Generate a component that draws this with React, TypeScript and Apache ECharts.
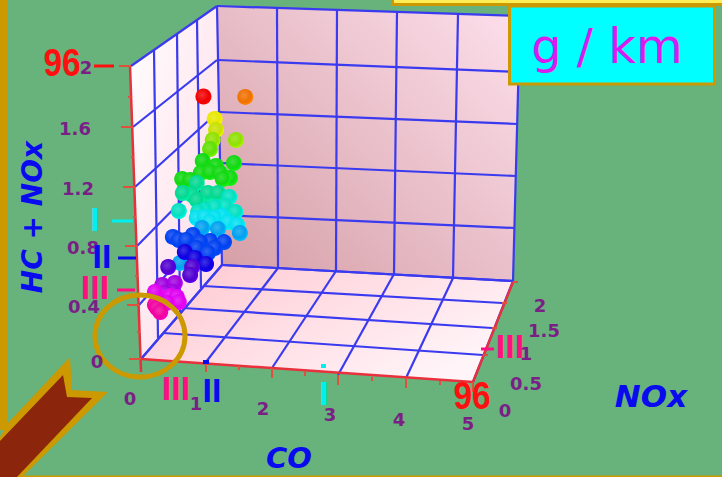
import React, { useEffect, useRef } from "react";
import * as echarts from "echarts";

// Readings: [apparent CO, apparent HC + NOx] in the projected plane, one list per colour band
const redPts = [[0.94, 1.798]];
const orangePts = [[1.57, 1.795]];
const yellowPts = [[1.11, 1.644]];
const yellowLimePts = [[1.13, 1.568]];
const limePts = [[1.43, 1.5], [1.08, 1.5]];
const lawnPts = [[1.04, 1.438]];
const greenPts = [[1.4, 1.342], [0.93, 1.356], [1.13, 1.322], [0.9, 1.274], [1.04, 1.281], [1.19, 1.274], [1.34, 1.24], [1.23, 1.233], [0.62, 1.233], [0.74, 1.226]];
const springPts = [[0.84, 1.205], [1.07, 1.075], [1.01, 1.137], [1.16, 1.137], [0.77, 1.123], [0.63, 1.137], [0.84, 1.089]];
const tealPts = [[1.33, 1.11], [1.27, 1.048], [1.11, 1.04], [0.96, 1.02], [1.42, 1.007], [0.57, 1.014], [0.86, 1.007]];
const cyanPts = [[1.22, 0.979], [0.84, 0.966], [0.96, 0.973], [1.11, 0.966], [1.04, 0.938], [1.31, 0.938], [1.45, 0.918]];
const azurePts = [[0.92, 0.897], [1.16, 0.89], [1.49, 0.863], [0.59, 0.658]];
const bluePts = [[0.78, 0.849], [0.48, 0.836], [0.57, 0.815], [0.68, 0.815], [1.04, 0.808], [1.25, 0.801], [0.89, 0.801], [0.84, 0.76], [1.11, 0.76], [1.01, 0.726]];
const navyPts = [[0.66, 0.733], [0.81, 0.692], [0.98, 0.651]];
const indigoPts = [[0.41, 0.63], [0.77, 0.63], [0.74, 0.575]];
const violetPts = [[0.51, 0.521], [0.32, 0.507], [0.47, 0.459], [0.36, 0.452]];
const magentaPts = [[0.21, 0.459], [0.44, 0.432], [0.54, 0.425], [0.57, 0.39], [0.39, 0.384]];
const hotPts = [[0.21, 0.37], [0.24, 0.349], [0.29, 0.322]];

const bands: [number[][], string][] = [
  [redPts, "#f00000"], [orangePts, "#f07000"], [yellowPts, "#e8e800"], [yellowLimePts, "#c8e000"],
  [limePts, "#90e000"], [lawnPts, "#60e000"], [greenPts, "#10d810"], [springPts, "#00d890"],
  [tealPts, "#00e0c0"], [cyanPts, "#00e0f0"], [azurePts, "#00a0f0"], [bluePts, "#0040f0"],
  [navyPts, "#1000e0"], [indigoPts, "#5000d0"], [violetPts, "#a000e0"], [magentaPts, "#e000f0"], [hotPts, "#f000a0"],
];

const coLabels = ["0", "1", "2", "3", "4", "5"];
const noxLabels = ["0", "0.5", "1", "1.5", "2"];
const hcLabels = ["0", "0.4", "0.8", "1.2", "1.6", "2"];

// Layout of the projected box, in page pixels
const W = 722, H = 477;
const ox = 141, oy = 359, pxPerCo = 66.4, pxPerHc = 146;
const BG = "#67b37b", GOLD = "#cc9900", LINE = "#3a3af0", RED = "#e8313c", TICK = "#e0503c", PURPLE = "#7a1f86", PINK = "#ff0f80";

const lw = { t: [[131, 66], [133, 127], [135, 187], [137, 246], [139, 305], [141, 359]], b: [[217, 6], [217, 60], [218, 112], [219, 163], [220, 215], [222, 265]] };
const lwV = [[[154, 50], [158, 338]], [[177, 34], [180, 312]], [[197, 20], [201, 288]]];
const backTop = [217, 277, 337, 397, 458, 520];
const backBot = [[222, 265], [278, 268], [336, 271], [394, 274], [453, 278], [513, 281]];
const backL = [6, 60, 112, 163, 215, 265];
const backR = [[520, 16], [519, 72], [518, 124], [516, 176], [515, 228], [513, 281]];
const floorFront = [[141, 359], [206, 362], [272, 368], [338, 375], [406, 378], [473, 382]];
const floorL = [[163, 333], [183, 308], [203, 286]];
const floorR = [[483, 355], [492, 328], [502, 303]];
const minorLeft = [[131, 97], [134, 157], [136, 217], [138, 276], [140, 332]];
const minorFront = [[174, 361], [239, 366], [305, 372], [372, 377], [440, 381]];

const seg = (a: number[], b: number[], stroke: string, lineWidth: number, z = 1) => ({
  type: "line", z, shape: { x1: a[0], y1: a[1], x2: b[0], y2: b[1] }, style: { stroke, lineWidth },
});
const txt = (text: string, x: number, y: number, fill: string, font: string, extra: any = {}) => ({
  type: "text", z: 6, x, y, style: { text, fill, font, textAlign: "center", textVerticalAlign: "middle" }, ...extra,
});
const poly = (points: number[][], fill: any, z = 1) => ({
  type: "polygon", z, shape: { points }, style: { fill },
});
const lin = (x: number, y: number, x2: number, y2: number, a: string, b: string) => ({
  type: "linear", x, y, x2, y2, colorStops: [{ offset: 0, color: a }, { offset: 1, color: b }],
});

const LABEL = 'bold 18px "DejaVu Sans"';
const BIG = 'bold 38px "Liberation Sans"';
const TITLE = 'italic bold 31px "DejaVu Sans"';
const BAR = 'bold 34px "Liberation Sans"';

function frame() {
  const e: any[] = [];
  e.push(poly([[130, 66], [217, 6], [222, 265], [141, 359]], lin(0, 0, 1, 1, "#ffffff", "#ffd6e4")));
  e.push(poly([[217, 6], [520, 16], [513, 281], [222, 265]], lin(0, 0.9, 1, 0, "#d6a0a8", "#fde0ec")));
  e.push(poly([[141, 359], [222, 265], [513, 281], [473, 382]], lin(0, 0, 1, 0.6, "#ffc6cf", "#fff4f8")));
  lw.t.forEach((p, i) => e.push(seg(p, lw.b[i], LINE, 2.2)));
  lwV.forEach((v) => e.push(seg(v[0], v[1], LINE, 2.2)));
  backTop.forEach((x, i) => e.push(seg([x, 6 + i * 2], backBot[i], LINE, 2.2)));
  backL.forEach((y, i) => e.push(seg([217 + i, y], backR[i], LINE, 2.2)));
  floorFront.slice(1).forEach((p, i) => e.push(seg(p, backBot[i + 1], LINE, 2.2)));
  floorL.forEach((p, i) => e.push(seg(p, floorR[i], LINE, 2.2)));
  e.push(seg([141, 359], [222, 265], LINE, 2.2));
  e.push(seg([222, 265], [513, 281], LINE, 2.2));
  e.push(seg([130, 66], [141, 372], RED, 2.5));
  e.push(seg([141, 359], [473, 382], RED, 2.5));
  e.push(seg([473, 382], [513, 282], RED, 2.5));
  lw.t.forEach((p) => e.push(seg([p[0] - 12, p[1]], p, TICK, 2)));
  minorLeft.forEach((p) => e.push(seg([p[0] - 3, p[1]], p, TICK, 2)));
  floorFront.slice(1).forEach((p) => e.push(seg(p, [p[0], p[1] + 10], TICK, 2)));
  minorFront.forEach((p) => e.push(seg(p, [p[0], p[1] + 4], TICK, 2)));
  floorR.concat([[513, 282]]).forEach((p) => e.push(seg(p, [p[0] + 5, p[1]], TICK, 2)));
  return e;
}

function overlay() {
  const e: any[] = [];
  e.push({ type: "rect", z: 5, shape: { x: 0, y: 0, width: 8, height: 430 }, style: { fill: GOLD } });
  e.push({ type: "rect", z: 5, shape: { x: 0, y: 475.5, width: W, height: 1.5 }, style: { fill: GOLD } });
  e.push({ type: "rect", z: 5, shape: { x: 391, y: 0, width: W - 391, height: 6 }, style: { fill: GOLD } });
  e.push({ type: "rect", z: 5, shape: { x: 394, y: 0, width: W - 394, height: 3 }, style: { fill: "#ffee55" } });
  e.push({ type: "rect", z: 5, shape: { x: 509.5, y: 6, width: 205, height: 78 }, style: { fill: "#00ffff", stroke: GOLD, lineWidth: 3 } });
  e.push(txt("g / km", 607, 46, "#d81cf0", '48px "DejaVu Sans"'));
  e.push(poly([[0, 437], [8, 423], [70, 357], [72, 390], [108, 392], [22, 477], [0, 477]], GOLD, 5));
  e.push(poly([[0, 441], [63, 375], [67, 397], [92, 398], [17, 477], [0, 477]], "#8b260d", 5));
  e.push({ type: "ellipse", z: 5, shape: { cx: 140, cy: 336, rx: 45, ry: 41 }, style: { fill: "none", stroke: GOLD, lineWidth: 5 } });
  const coXY = [[130, 398], [196, 403], [263, 408], [330, 414], [399, 419], [468, 423]];
  coLabels.forEach((t, i) => e.push(txt(t, coXY[i][0], coXY[i][1], PURPLE, LABEL)));
  const noxXY = [[505, 410], [526, 383], [526, 353], [544, 330], [540, 305]];
  noxLabels.forEach((t, i) => e.push(txt(t, noxXY[i][0], noxXY[i][1], PURPLE, LABEL)));
  const hcXY = [[97, 361], [84, 306], [83, 247], [78, 188], [75, 128], [86, 67]];
  hcLabels.forEach((t, i) => e.push(txt(t, hcXY[i][0], hcXY[i][1], PURPLE, LABEL)));
  e.push(txt("HC + NOx", 32, 217, "#0a0aee", 'italic bold 28px "DejaVu Sans"', { rotation: Math.PI / 2 }));
  e.push(txt("CO", 289, 458, "#0a0aee", 'italic bold 29px "DejaVu Sans"'));
  e.push(txt("NOx", 651, 396, "#0a0aee", TITLE));
  e.push(txt("96", 62, 63, "#ff1010", BIG, { scaleX: 0.88 }));
  e.push(txt("96", 472, 396, "#ff1010", BIG, { scaleX: 0.88 }));
  e.push(txt("III", 95, 287, PINK, BAR));
  e.push(txt("III", 176, 388, PINK, BAR));
  e.push(txt("III", 510, 346, PINK, BAR));
  e.push(txt("II", 102, 256, "#0a0aee", BAR));
  e.push(txt("II", 212, 390, "#0a0aee", BAR));
  e.push(txt("I", 95, 219, "#00f0f0", BAR));
  e.push(txt("I", 324, 393, "#00f0f0", BAR));
  e.push(seg([94, 66], [114, 66], "#ff1010", 3, 6));
  e.push(seg([112, 221], [133, 221], "#00f0f0", 3, 6));
  e.push(seg([118, 258], [136, 258], "#0a0aee", 3, 6));
  e.push(seg([117, 290], [135, 290], PINK, 3, 6));
  e.push(seg([481, 349], [494, 349], PINK, 3, 6));
  e.push(seg([321, 366], [326, 366], "#00f0f0", 4, 6));
  e.push(seg([203, 362], [209, 362], "#0a0aee", 4, 6));
  return e;
}

const ball = (c: string) => ({
  type: "radial", x: 0.42, y: 0.4, r: 0.68,
  colorStops: [
    { offset: 0, color: echarts.color.lift(c, 0.2) },
    { offset: 0.6, color: c },
    { offset: 1, color: echarts.color.lift(c, -0.25) },
  ],
});

export default function App() {
  const ref = useRef<HTMLDivElement>(null);
  useEffect(() => {
    const chart = echarts.init(ref.current!, undefined, { renderer: "svg" });
    chart.setOption({
      animation: false,
      backgroundColor: BG,
      grid: { left: 0, right: 0, top: 0, bottom: 0 },
      xAxis: { type: "value", show: false, min: -ox / pxPerCo, max: (W - ox) / pxPerCo },
      yAxis: { type: "value", show: false, min: (oy - H) / pxPerHc, max: oy / pxPerHc },
      graphic: { elements: [...frame(), ...overlay()] },
      series: bands.map(([data, c]) => ({
        type: "scatter",
        z: 3,
        data,
        symbol: "circle",
        symbolSize: 16,
        itemStyle: { color: ball(c), opacity: 1 },
        silent: true,
      })),
    });
    return () => chart.dispose();
  }, []);
  return <div ref={ref} style={{ position: "absolute", left: 0, top: 0, width: W, height: H }} />;
}
